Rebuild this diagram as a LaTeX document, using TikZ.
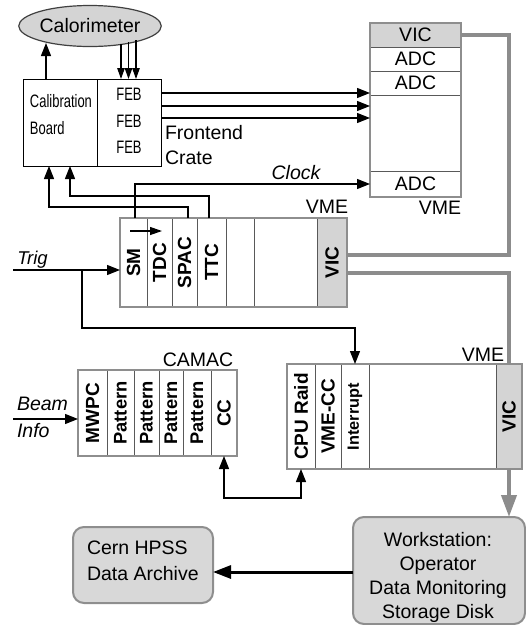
\documentclass[tikz,border=0pt]{standalone}
\usepackage{fontspec}
\setmainfont{Liberation Sans}
\newfontfamily\narrowfont[FakeStretch=0.72]{Liberation Sans}
\usepackage{graphicx}
\usetikzlibrary{arrows.meta,shapes.geometric,calc}
\definecolor{crategray}{HTML}{8E8E8E}
\definecolor{vicfill}{HTML}{D4D4D4}
\definecolor{boxfill}{HTML}{D8D8D8}
\definecolor{linegray}{HTML}{8C8C8C}
\tikzset{
  base/.style={inner sep=0pt, outer sep=0pt},
  txt/.style={base, font=\fontsize{19.5}{23}\selectfont},
  lab/.style={base, font=\fontsize{19}{23}\selectfont\bfseries},
  slot/.style n args={2}{base, draw=black!65, line width=0.8pt, minimum width=#1, minimum height=#2},
  crate/.style={base, draw=crategray, line width=2pt},
  conn/.style={draw=black, line width=1.2pt, -{Triangle[length=13pt,width=10pt]}},
  febconn/.style={draw=black, line width=1.2pt, {Triangle[length=11pt,width=7.5pt]}-},
  tinyconn/.style={draw=black, line width=1.2pt, -{Triangle[length=12pt,width=8pt]}},
  gline/.style={draw=linegray, line width=3.5pt},
  garrow/.style={draw=linegray, line width=4pt, -{Triangle[length=22pt,width=15pt]}},
  tarrow/.style={draw=black, line width=3pt, -{Triangle[length=18pt,width=13pt]}},
  rbox/.style={base, draw=crategray, line width=2pt, fill=boxfill, rounded corners=11pt},
}
\begin{document}
\begin{tikzpicture}[x=1pt,y=-1pt]
\useasboundingbox (0,0) rectangle (526,625);

% Calorimeter and calibration board
\node[txt, ellipse, draw=black!75, line width=1.2pt, fill=vicfill, minimum width=127pt, minimum height=41pt] (calo) at (90,26) {Calorimeter};
\node[base, draw=black, line width=1pt, minimum width=74pt, minimum height=87pt] (calib) at (60,122.5) {};
\node[base, draw=black, line width=1pt, minimum width=64pt, minimum height=87pt] (feb) at (129,122.5) {};
\node[base, anchor=base west, font=\narrowfont\fontsize{18}{22}\selectfont] (calt1) at (30,107) {Calibration};
\node[base, anchor=base west, font=\narrowfont\fontsize{18}{22}\selectfont] (calt2) at (30,134) {Board};
\node[base, anchor=base, font=\narrowfont\fontsize{18}{22}\selectfont] (feb1) at (129,100) {FEB};
\node[base, anchor=base, font=\narrowfont\fontsize{18}{22}\selectfont] (feb2) at (129,127) {FEB};
\node[base, anchor=base, font=\narrowfont\fontsize{18}{22}\selectfont] (feb3) at (129,153) {FEB};
\node[txt, anchor=base west] (fe1) at (165,139) {Frontend};
\node[txt, anchor=base west] (fe2) at (165,164) {Crate};

% Top VME crate
\node[txt, slot={91pt}{24pt}, fill=vicfill] (tvic) at (415.5,35) {VIC};
\node[txt, slot={91pt}{24.5pt}] (tadc1) at (415.5,59.25) {ADC};
\node[txt, slot={91pt}{23.5pt}] (tadc2) at (415.5,83.25) {ADC};
\node[txt, slot={91pt}{76pt}] (tempty) at (415.5,133) {};
\node[txt, slot={91pt}{26pt}] (tadc3) at (415.5,184) {ADC};
\node[crate, minimum width=91pt, minimum height=174pt] (tcrate) at (415.5,110) {};
\node[txt] (vmet) at (440,208) {VME};

% Middle VME crate
\node[lab, slot={27pt}{89pt}] (sm) at (133.5,262.5) {\rotatebox{90}{SM}};
\node[lab, slot={25pt}{89pt}] (tdc) at (159.5,262.5) {\rotatebox{90}{TDC}};
\node[lab, slot={25pt}{89pt}] (spac) at (184.5,262.5) {\rotatebox{90}{SPAC}};
\node[lab, slot={29pt}{89pt}] (ttc) at (211.5,262.5) {\rotatebox{90}{TTC}};
\node[lab, slot={28pt}{89pt}] (me1) at (240,262.5) {};
\node[lab, slot={63pt}{89pt}] (me2) at (285.5,262.5) {};
\node[lab, slot={30pt}{89pt}, fill=vicfill] (mvic) at (332,262.5) {\rotatebox{90}{VIC}};
\node[crate, minimum width=227pt, minimum height=89pt] (mcrate) at (233.5,262.5) {};
\node[txt] (vmem) at (327,207) {VME};

% Bottom VME crate
\node[lab, slot={28pt}{105pt}] (cpu) at (301,416.5) {\rotatebox{90}{CPU Raid}};
\node[lab, slot={26pt}{105pt}] (vmecc) at (328,416.5) {\rotatebox{90}{VME-CC}};
\node[lab, slot={28pt}{105pt}, font=\fontsize{16.3}{20}\selectfont\bfseries] (intr) at (355,416.5) {\rotatebox{90}{Interrupt}};
\node[lab, slot={127pt}{105pt}] (be) at (432.5,416.5) {};
\node[lab, slot={26pt}{105pt}, fill=vicfill] (bvic) at (509,416.5) {\rotatebox{90}{VIC}};
\node[crate, minimum width=235pt, minimum height=105pt] (bcrate) at (404.5,416.5) {};
\node[txt] (vmeb) at (483,355) {VME};

% CAMAC crate
\node[lab, slot={29pt}{86pt}] (mwpc) at (92.5,413) {\rotatebox{90}{MWPC}};
\node[lab, slot={27pt}{86pt}, font=\fontsize{18.3}{22}\selectfont\bfseries] (pat1) at (120.5,413) {\rotatebox{90}{Pattern}};
\node[lab, slot={25pt}{86pt}, font=\fontsize{18.3}{22}\selectfont\bfseries] (pat2) at (146.5,413) {\rotatebox{90}{Pattern}};
\node[lab, slot={24pt}{86pt}, font=\fontsize{18.3}{22}\selectfont\bfseries] (pat3) at (171,413) {\rotatebox{90}{Pattern}};
\node[lab, slot={28pt}{86pt}, font=\fontsize{18.3}{22}\selectfont\bfseries] (pat4) at (197,413) {\rotatebox{90}{Pattern}};
\node[lab, slot={26pt}{86pt}] (cc) at (224,413) {\rotatebox{90}{CC}};
\node[crate, minimum width=159pt, minimum height=86pt] (ccrate) at (157.5,413) {};
\node[txt] (camac) at (198,360) {CAMAC};

% Bottom boxes
\node[rbox, minimum width=172pt, minimum height=107pt] (ws) at (439,570.5) {};
\node[txt, align=center, font=\fontsize{19.5}{24}\selectfont] (wstxt) at (438,577.5) {Workstation:\\Operator\\Data Monitoring\\Storage Disk};
\node[rbox, minimum width=140pt, minimum height=76pt] (cern) at (143,565) {};
\node[txt, align=left, anchor=west, font=\fontsize{19.5}{26}\selectfont] (cerntxt) at (87,561) {Cern HPSS\\Data Archive};

% Free labels
\node[txt, font=\fontsize{19.5}{23}\selectfont\itshape] (clock) at (296,173) {Clock};
\node[txt, anchor=base, font=\fontsize{18.5}{23}\selectfont\itshape] (trig) at (32.5,264) {Trig};
\node[txt, anchor=base west, font=\fontsize{19.5}{23}\selectfont\itshape] (beam) at (17,410) {Beam};
\node[txt, anchor=base west, font=\fontsize{19.5}{23}\selectfont\itshape] (info) at (17,437) {Info};

% Connectors: calorimeter / calibration
\draw[conn] (calib.north -| 46,0) -- ++(0,-36);
\draw[febconn] (feb.north -| 121,0) -- ++(0,-35);
\draw[febconn] (feb.north -| 128.5,0) -- ++(0,-37);
\draw[febconn] (feb.north -| 136,0) -- ++(0,-39);
\draw[conn] (feb.east |- 0,93) -- (tcrate.west |- 0,93);
\draw[conn] (feb.east |- 0,106) -- (tcrate.west |- 0,106);
\draw[conn] (feb.east |- 0,118) -- (tcrate.west |- 0,118);

% Middle crate to calibration board and clock
\draw[conn] (mcrate.north -| 188,0) -- ++(0,-11) -| (calib.south -| 49,0);
\draw[conn] (mcrate.north -| 209,0) -- ++(0,-22) -| (calib.south -| 70,0);
\draw[conn] (mcrate.north -| 135,0) -- ++(0,-34) -- (tcrate.west |- 0,184);
\draw[tinyconn] ($(sm.center |- 0,231)+(-3.5,0)$) -- ($(tdc.center |- 0,231)+(2.5,0)$);

% Trigger
\coordinate (trigin) at (13,270);
\coordinate (trigbr) at (82,270);
\draw[conn] (trigin) -- (mcrate.west |- trigin);
\draw[conn] (trigbr) -- ++(0,58) -| (intr.north);

% Beam info
\coordinate (beamin) at (13,419);
\draw[conn] (beamin) -- (ccrate.west |- beamin);

% CAMAC <-> CPU
\draw[draw=black, line width=1.2pt, {Triangle[length=13pt,width=10pt]}-{Triangle[length=13pt,width=10pt]}] (cc.south) -- ++(0,42) -| (cpu.south);

% VIC links
\draw[gline] (tvic.east) -- ++(48,0) |- (mvic.east |- 0,255);
\draw[gline] (mvic.east |- 0,273) -| (bvic.north);
\draw[garrow] (bvic.south) -- (bvic.south |- ws.north);

% Workstation to archive
\draw[tarrow] (ws.west |- 0,572) -- (cern.east |- 0,572);
\end{tikzpicture}
\end{document}
